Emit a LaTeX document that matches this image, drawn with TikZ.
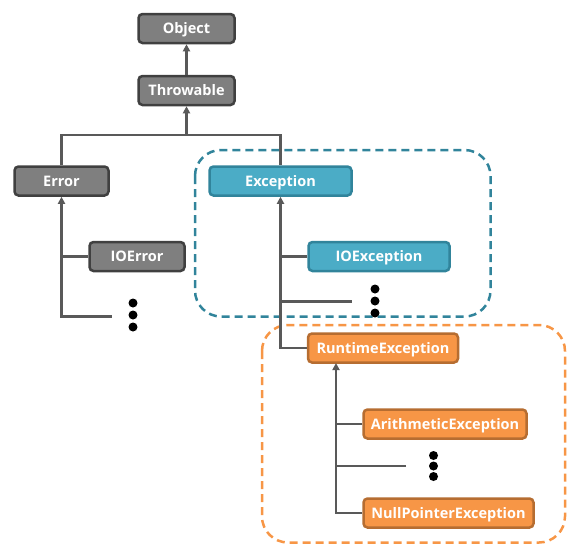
\documentclass[tikz,border=0pt]{standalone}
\usepackage{fontspec}
\setmainfont{Open Sans}
\usetikzlibrary{arrows.meta}
\definecolor{grayfill}{HTML}{7F7F7F}
\definecolor{graydraw}{HTML}{404040}
\definecolor{bluefill}{HTML}{4BACC6}
\definecolor{bluedraw}{HTML}{31849B}
\definecolor{orangefill}{HTML}{F79646}
\definecolor{orangedraw}{HTML}{B66D31}
\definecolor{linkgray}{HTML}{595959}
\begin{document}
\begin{tikzpicture}[x=1pt,y=-1pt,
    cls/.style={rounded corners=4pt, line width=2.5pt, minimum height=29pt,
        inner sep=0pt, text height=10pt, text depth=0pt, text=white,
        font=\fontsize{14.5}{16}\selectfont\bfseries},
    graycls/.style={cls, fill=grayfill, draw=graydraw},
    bluecls/.style={cls, fill=bluefill, draw=bluedraw},
    orangecls/.style={cls, fill=orangefill, draw=orangedraw},
    link/.style={draw=linkgray, line width=2.5pt},
    uplink/.style={link, -{Triangle[width=7pt,length=7pt]}},
    group/.style={dashed, dash pattern=on 8pt off 5pt, line width=2.5pt, rounded corners=26pt},
    dot/.style={circle, fill=black, inner sep=0pt, minimum size=9pt}]
        \useasboundingbox (0,0) rectangle (581,552);

        % groups
        \draw[group, draw=bluedraw] (195,150) rectangle (490.5,316.5);
        \draw[group, draw=orangefill] (262,325) rectangle (565,542.5);

        % classes
        \node[graycls, minimum width=96pt] (object) at (186.5,28.5) {Object};
        \node[graycls, minimum width=96pt] (throwable) at (186.5,90.5) {Throwable};
        \node[graycls, minimum width=94pt] (error) at (61.5,181) {Error};
        \node[graycls, minimum width=95pt] (ioerror) at (137,256.5) {IOError};
        \node[bluecls, minimum width=142pt] (exception) at (280.5,181) {Exception};
        \node[bluecls, minimum width=141pt] (ioexception) at (379,256.5) {IOException};
        \node[orangecls, minimum width=150pt] (runtime) at (383,348) {RuntimeException};
        \node[orangecls, minimum width=163pt] (arith) at (445,424) {ArithmeticException};
        \node[orangecls, minimum width=170pt] (nullptr) at (448.5,513) {NullPointerException};

        % ends
        \coordinate (fork) at (186.5,135);
        \coordinate (errorend) at (111.5,316.5);
        \coordinate (excend) at (351.5,301.5);
        \coordinate (rtstem) at (336,363);
        \coordinate (rtend) at (406,466);

        % links
        \draw[uplink] (throwable) -- (object);
        \draw[link] (error.north) -- (error.north |- fork) -- (exception.north |- fork) -- (exception.north);
        \draw[uplink] (fork) -- (throwable.south);
        \draw[uplink] (errorend) -| (error.south);
        \draw[link] (ioerror.west) -- (ioerror.west -| error.south);
        \draw[uplink] (runtime.west) -| (exception.south);
        \draw[link] (ioexception.west) -- (ioexception.west -| exception.south);
        \draw[link] (excend) -- (excend -| exception.south);
        \draw[uplink] (nullptr.west) -| (rtstem);
        \draw[link] (arith.west) -- (arith.west -| rtstem);
        \draw[link] (rtend) -- (rtend -| rtstem);

        % more classes
        \foreach \y in {303,315,327} \node[dot] at (133,\y) {};
        \foreach \y in {289,301,313} \node[dot] at (375,\y) {};
        \foreach \y in {455.5,466,476.5} \node[dot] at (433.5,\y) {};
    \end{tikzpicture}
\end{document}
